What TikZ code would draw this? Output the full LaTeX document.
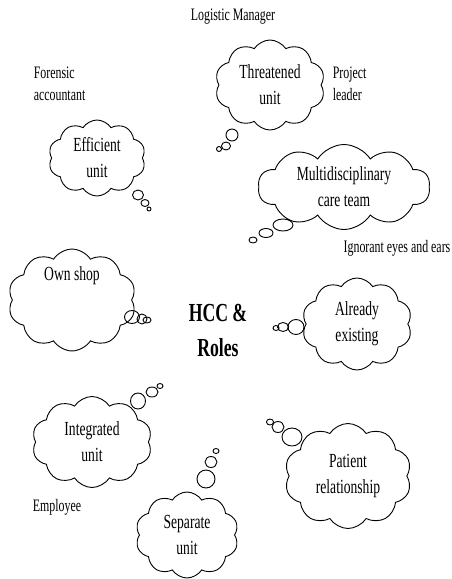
\documentclass[tikz,border=0pt]{standalone}
\usepackage{fontspec}
\setmainfont{Liberation Serif}[FakeStretch=0.68]
\usetikzlibrary{shapes.symbols,shapes.geometric}

\begin{document}
\begin{tikzpicture}[
    x=1pt, y=-1pt, line width=0.9pt,
    thought/.style={cloud, draw, cloud puffs=10, cloud puff arc=115,
        cloud ignores aspect, inner sep=0pt, align=center,
        font=\fontsize{20}{26}\selectfont},
    bubble/.style={ellipse, draw, inner sep=0pt},
    role/.style={align=left, font=\fontsize{17.5}{22}\selectfont}
]
    \useasboundingbox (0,0) rectangle (452,579);

    % the clouds
    \node[thought, minimum width=110, minimum height=90] (threat) at (270,85)  {Threatened\\unit};
    \node[thought, minimum width=97,  minimum height=76] (effic)  at (97,158)  {Efficient\\unit};
    \node[thought, minimum width=172, minimum height=85] (multi)  at (344,187) {Multidisciplinary\\care team};
    \node[thought, minimum width=128, minimum height=88] (shop)   at (72,300)  {Own shop\\[26pt]};
    \node[thought, minimum width=110, minimum height=92] (exist)  at (357,324) {Already\\existing};
    \node[thought, minimum width=120, minimum height=91] (integ)  at (92,442)  {Integrated\\unit};
    \node[thought, minimum width=103, minimum height=86] (separ)  at (187,535) {Separate\\unit};
    \node[thought, minimum width=127, minimum height=105] (patient) at (348,476) {Patient\\relationship};

    % the bubbles
    \node[bubble, minimum width=12, minimum height=12] (threat1) at (232,135) {};
    \node[bubble, minimum width=9,  minimum height=8]  (threat2) at (226,146) {};
    \node[bubble, minimum width=5,  minimum height=5]  (threat3) at (219,149) {};

    \node[bubble, minimum width=11, minimum height=10] (effic1) at (138,195) {};
    \node[bubble, minimum width=8,  minimum height=7]  (effic2) at (145,203) {};
    \node[bubble, minimum width=4,  minimum height=4]  (effic3) at (149,209) {};

    \node[bubble, minimum width=20, minimum height=12] (multi1) at (283,225) {};
    \node[bubble, minimum width=14, minimum height=9]  (multi2) at (266,233) {};
    \node[bubble, minimum width=8,  minimum height=6]  (multi3) at (253,240) {};

    \node[bubble, minimum width=15, minimum height=13] (shop1) at (132,317) {};
    \node[bubble, minimum width=10, minimum height=10] (shop2) at (142,319) {};
    \node[bubble, minimum width=8,  minimum height=6]  (shop3) at (147,320) {};

    \node[bubble, minimum width=16, minimum height=15] (exist1) at (296,327) {};
    \node[bubble, minimum width=11, minimum height=9]  (exist2) at (283,327) {};
    \node[bubble, minimum width=6,  minimum height=5]  (exist3) at (276,328) {};

    \node[bubble, minimum width=15, minimum height=16] (integ1) at (138,401) {};
    \node[bubble, minimum width=12, minimum height=10] (integ2) at (152,392) {};
    \node[bubble, minimum width=6,  minimum height=5]  (integ3) at (160,386) {};

    \node[bubble, minimum width=18, minimum height=18] (separ1) at (206,479) {};
    \node[bubble, minimum width=12, minimum height=11] (separ2) at (211,462) {};
    \node[bubble, minimum width=6,  minimum height=5]  (separ3) at (216,451) {};

    \node[bubble, minimum width=20, minimum height=18] (patient1) at (292,437) {};
    \node[bubble, minimum width=12, minimum height=11] (patient2) at (278,427) {};
    \node[bubble, minimum width=7,  minimum height=6]  (patient3) at (270,422) {};

    % the roles
    \node[font=\bfseries\fontsize{26}{35}\selectfont, align=center] (hcc) at (218,330) {HCC \&\\Roles};
    \node[role] (logistic) at (233,17)  {Logistic Manager};
    \node[role, anchor=west] (forensic) at (30,84)  {Forensic\\accountant};
    \node[role, anchor=west] (project)  at (329,84) {Project\\leader};
    \node[role] (ignorant) at (397,248) {Ignorant eyes and ears};
    \node[role] (employee) at (57,507)  {Employee};
\end{tikzpicture}
\end{document}
